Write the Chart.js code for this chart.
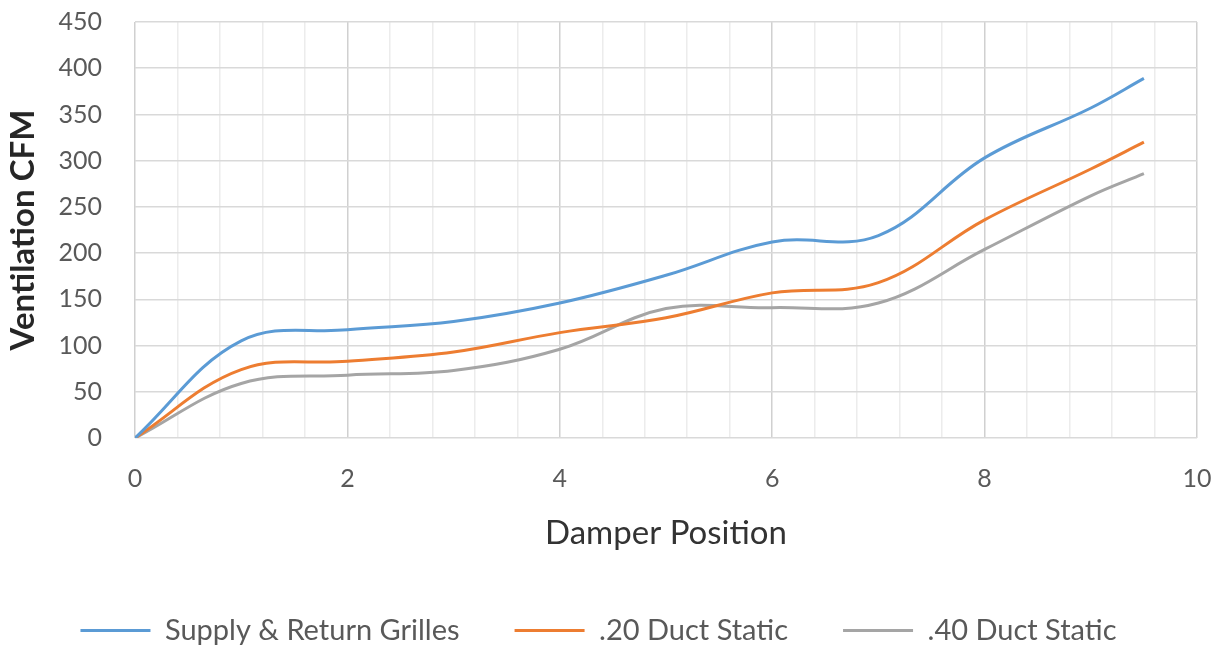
<!DOCTYPE html>
<html>
<head>
<meta charset="utf-8">
<script src="https://cdn.jsdelivr.net/npm/chart.js@4.4.1/dist/chart.umd.min.js"></script>
<style>
  html, body { margin: 0; padding: 0; background: #fff; }
</style>
</head>
<body>
<canvas id="chart" width="1225" height="650"></canvas>
<script>
// data
const damperPositions = [0, 1, 2, 3, 4, 5, 6, 7, 8, 9, 9.5];
const supplyReturn = [0, 105, 117, 126, 146, 176, 212, 219, 303, 357, 389];
const duct20 = [0, 74, 83, 93, 114, 130, 157, 168, 236, 291, 320];
const duct40 = [0, 59, 68, 73, 96, 140, 141, 146, 204, 262, 286];
const seriesNames = ['Supply & Return Grilles', '.20 Duct Static', '.40 Duct Static'];
const seriesColors = ['#5b9bd5', '#ed7d31', '#a5a5a5'];

// axis ticks
const xMin = 0, xMax = 10, xMinorStep = 0.4, xLabelStep = 2;
const yMin = 0, yMax = 450, yStep = 50;

const isMajorX = (v) => Math.abs(v / xLabelStep - Math.round(v / xLabelStep)) < 1e-6;
const toPoints = (ys) => damperPositions.map((x, i) => ({ x, y: ys[i] }));

const makeSeries = (label, values, color) => ({
  label,
  data: toPoints(values),
  borderColor: color,
  backgroundColor: color,
  borderWidth: 3,
  pointRadius: 0,
  tension: 0.38,
  fill: false
});

new Chart(document.getElementById('chart'), {
  type: 'line',
  data: {
    datasets: [
      makeSeries(seriesNames[0], supplyReturn, seriesColors[0]),
      makeSeries(seriesNames[1], duct20, seriesColors[1]),
      makeSeries(seriesNames[2], duct40, seriesColors[2])
    ]
  },
  options: {
    responsive: false,
    animation: false,
    // negative bottom so the legend row lands where excel put it
    layout: { padding: { top: 22, right: 28, bottom: -5, left: 0 } },
    plugins: {
      tooltip: { enabled: false },
      legend: {
        position: 'bottom',
        labels: {
          usePointStyle: true,
          pointStyle: 'line',
          pointStyleWidth: 70,
          padding: 55,
          color: '#595959',
          font: { family: 'Lato', size: 29 }
        }
      }
    },
    scales: {
      x: {
        type: 'linear',
        min: xMin,
        max: xMax,
        afterFit: (scale) => {
          scale.height = 123;
          scale.paddingLeft = 0;
          scale.paddingRight = 0;
        },
        border: { display: false },
        grid: {
          drawTicks: false,
          lineWidth: 1.5,
          color: (ctx) => (ctx.tick && isMajorX(ctx.tick.value) ? '#d0d0d0' : '#ececec')
        },
        ticks: {
          stepSize: xMinorStep,
          autoSkip: false,
          maxRotation: 0,
          padding: 26,
          color: '#595959',
          font: { family: 'Lato', size: 25 },
          callback: (v) => (isMajorX(v) ? String(Math.round(v)) : '')
        },
        title: {
          display: true,
          text: 'Damper Position',
          color: '#333333',
          font: { family: 'Lato', size: 33 },
          padding: { top: 0, bottom: 7.5 }
        }
      },
      y: {
        min: yMin,
        max: yMax,
        afterFit: (scale) => {
          scale.width = 135;
          scale.paddingTop = 0;
          scale.paddingBottom = 0;
        },
        border: { display: false },
        grid: { drawTicks: false, lineWidth: 1.5, color: '#d9d9d9' },
        ticks: {
          stepSize: yStep,
          padding: 33,
          color: '#595959',
          font: { family: 'Lato', size: 25 }
        },
        title: {
          display: true,
          text: 'Ventilation CFM',
          color: '#262626',
          font: { family: 'Lato', size: 33, weight: 'bold' },
          padding: { top: 4, bottom: 0 }
        }
      }
    }
  }
});
</script>
</body>
</html>
